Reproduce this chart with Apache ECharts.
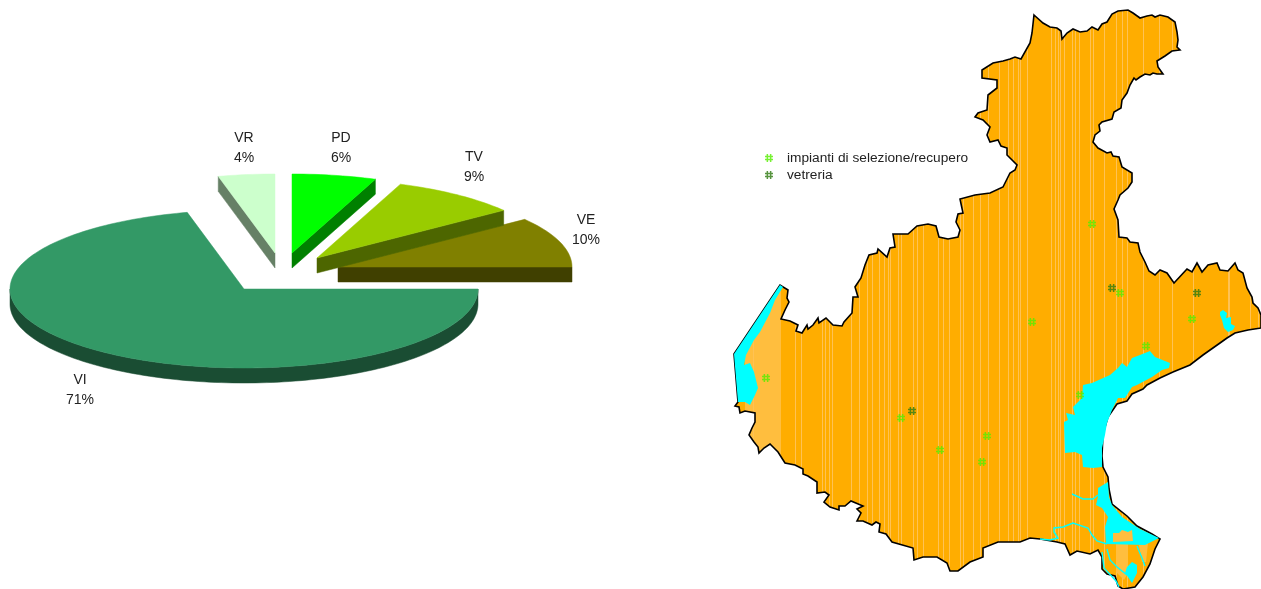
<!DOCTYPE html>
<html><head><meta charset="utf-8">
<style>html,body{margin:0;padding:0;background:#fff}#c{width:1261px;height:589px}</style>
<script src="https://cdn.jsdelivr.net/npm/echarts@6/dist/echarts.min.js"></script>
</head><body><div id="c"></div>
<script>
// ---- pie data
const provinces = ['VE','TV','PD','VR','VI'];
const shares = [10.3,8.9,5.8,3.9,71.1];
const topColors = ['#808000','#99CC00','#00FF00','#CCFFCC','#339966'];
const wallColors = ['#404000','#4D6600','#008000','#668066','#1A4D33'];
// ---- point data (map coordinates)
const selectionPlants = [[1092,224],[1120,293],[1032,322],[1192,319],[1146,346],[1080,395],[766,378],[901,418],[940,450],[987,436],[982,462]];
const glassWorks = [[1112,288],[1197,293],[912,411]];
const legendNames = ['impianti di selezione/recupero','vetreria'];
// ---- map geography, traced (x, y)
const venetoOutline = [[1034,15],[1043,23],[1050,27],[1057,28],[1061,31],[1062,39],[1067,33],[1073,29],[1080,32],[1087,31],[1092,27],[1098,30],[1102,24],[1107,22],[1112,14],[1118,11],[1128,10],[1133,13],[1140,18],[1147,16],[1152,15],[1155,17],[1160,15],[1168,17],[1175,22],[1177,32],[1178,40],[1177,47],[1180,50],[1172,51],[1165,56],[1157,61],[1158,67],[1163,74],[1157,74],[1153,73],[1150,75],[1145,74],[1140,77],[1136,80],[1134,78],[1130,85],[1127,93],[1122,100],[1121,108],[1114,112],[1112,119],[1102,122],[1099,125],[1100,131],[1095,135],[1093,142],[1098,148],[1107,153],[1111,152],[1113,156],[1119,157],[1122,167],[1132,173],[1132,182],[1128,188],[1120,195],[1118,200],[1114,209],[1118,220],[1119,237],[1127,238],[1130,242],[1138,243],[1140,252],[1145,262],[1149,271],[1155,275],[1160,270],[1167,273],[1174,283],[1187,269],[1192,272],[1197,263],[1202,272],[1208,265],[1217,263],[1220,270],[1228,271],[1235,263],[1238,270],[1243,273],[1247,288],[1252,297],[1253,303],[1258,308],[1261,315],[1261,328],[1248,330],[1235,333],[1227,338],[1220,343],[1203,355],[1190,365],[1173,372],[1160,378],[1147,385],[1143,389],[1132,394],[1127,401],[1117,404],[1108,417],[1103,434],[1102,456],[1103,467],[1108,477],[1109,489],[1112,504],[1127,516],[1137,526],[1152,534],[1160,539],[1155,549],[1150,564],[1143,577],[1135,587],[1123,589],[1118,586],[1115,576],[1107,574],[1102,569],[1102,557],[1098,550],[1090,554],[1077,551],[1070,555],[1065,544],[1057,542],[1040,539],[1030,538],[1020,542],[1008,542],[998,542],[983,548],[983,557],[970,562],[958,571],[950,571],[947,563],[937,557],[923,557],[914,560],[913,548],[892,542],[886,534],[879,532],[880,524],[876,522],[872,525],[863,521],[857,521],[861,513],[857,509],[863,506],[851,501],[845,506],[839,506],[839,510],[830,507],[824,502],[829,495],[825,492],[817,493],[817,482],[808,476],[803,474],[803,469],[795,465],[785,463],[778,452],[770,444],[764,448],[759,453],[758,447],[754,442],[749,435],[752,428],[755,422],[755,413],[745,411],[740,413],[739,407],[735,406],[738,402],[734,354],[780,285],[788,290],[787,298],[789,302],[785,310],[781,319],[790,321],[798,325],[796,331],[802,333],[807,325],[808,329],[813,325],[818,318],[819,323],[826,318],[833,325],[842,326],[844,322],[852,313],[853,297],[858,297],[855,287],[861,278],[865,265],[869,255],[877,253],[878,249],[887,257],[890,248],[895,247],[893,234],[908,234],[917,226],[928,224],[936,226],[939,237],[948,239],[958,237],[960,230],[956,222],[958,214],[963,213],[960,199],[975,195],[990,193],[1003,187],[1010,173],[1015,170],[1017,165],[1007,155],[1007,148],[1001,146],[998,140],[990,142],[987,135],[990,127],[983,120],[975,117],[978,113],[987,110],[988,95],[997,88],[997,80],[982,78],[982,70],[993,63],[1003,61],[1010,59],[1015,57],[1021,59],[1030,43],[1032,33],[1034,15]];
const gardaLake = [[780,285],[783,287],[775,300],[770,313],[760,332],[754,340],[746,355],[744,365],[750,363],[754,372],[758,388],[755,395],[750,405],[745,402],[738,402],[734,354]];
const veniceLagoon = [[1150,351],[1155,357],[1170,363],[1169,368],[1162,370],[1152,377],[1137,385],[1132,387],[1125,398],[1118,398],[1112,410],[1107,423],[1105,435],[1102,448],[1102,467],[1093,468],[1083,467],[1082,455],[1075,452],[1065,453],[1064,422],[1068,420],[1066,413],[1075,415],[1073,407],[1082,398],[1083,385],[1092,383],[1110,375],[1118,368],[1122,363],[1127,367],[1132,358],[1140,355]];
const caorleLagoon = [[1220,312],[1223,310],[1227,313],[1226,318],[1231,317],[1231,324],[1235,326],[1233,330],[1228,332],[1224,328],[1222,320],[1220,315]];
const poDelta = [[1098,488],[1108,482],[1109,497],[1112,505],[1122,517],[1140,529],[1159,538],[1145,545],[1106,544],[1105,527],[1108,517],[1102,508],[1096,505],[1098,497]];
const deltaIsland = [[1113,533],[1119,533],[1122,530],[1128,532],[1132,530],[1133,541],[1113,542]];
const deltaPond = [[1127,567],[1132,562],[1137,565],[1137,573],[1132,583],[1128,577],[1125,573]];
const deltaPaleWest = [[1116,544],[1128,544],[1128,573],[1124,580],[1116,572]];
const deltaPaleEast = [[1139,545],[1148,543],[1146,562],[1142,562]];
const riverPaths = [
  [[1072,494],[1083,499],[1093,499],[1098,495]],
  [[1107,544],[1097,541],[1092,535],[1088,528],[1073,523],[1063,527],[1054,528],[1054,532],[1058,538],[1050,540],[1040,539]],
  [[1102,552],[1104,568],[1116,581],[1119,587]],
  [[1107,549],[1110,560],[1117,567],[1127,575]],
  [[1137,546],[1142,558],[1145,566]]
];
const stripeColumns = [753,795,801,822,825,829,832,851,859,867,872,879,884,888,890,898,901,913,917,923,938,943,949,960,963,973,980,988,999,1008,1013,1018,1020,1027,1051,1055,1058,1060,1064,1072,1075,1079,1090,1093,1104,1116,1122,1127,1143,1159,1172,1193,1228,1229,1250,1258];
const paleBands = [[745,781]];

// ---- layout
const pieLayout = {rx:234, ry:79, depth:15, steps:64,
  apex:{VE:[338,267],TV:[317,258],PD:[292,253],VR:[275,253],VI:[244,289]},
  label:{VE:[586,230],TV:[474,167],PD:[341,148],VR:[244,148],VI:[80,390]}};

function stripeCanvas(){
  const c=document.createElement('canvas');c.width=1261;c.height=2;
  const g=c.getContext('2d');
  g.fillStyle='#FFAD00';g.fillRect(0,0,1261,2);
  g.fillStyle='#FFBE3E';paleBands.forEach(b=>g.fillRect(b[0],0,b[1]-b[0],2));
  g.fillStyle='#FFC254';stripeColumns.forEach(x=>g.fillRect(x,0,1,2));
  return c;
}
const toGeo = ring => ring.map(p=>[p[0],-p[1]]);
const feature=(name,ring)=>({type:'Feature',properties:{name},geometry:{type:'Polygon',coordinates:[toGeo(ring)]}});
const geoJson={type:'FeatureCollection',features:[
  feature('Veneto',venetoOutline),feature('PaleW',deltaPaleWest),feature('PaleE',deltaPaleEast),feature('Garda',gardaLake),feature('Venezia',veniceLagoon),
  feature('Caorle',caorleLagoon),feature('Delta',poDelta),feature('Isola',deltaIsland),feature('Stagno',deltaPond)]};
echarts.registerMap('veneto',geoJson);

const hash='path://M1.6,0h1.5v8h-1.5z M4.9,0h1.5v8h-1.5z M0,1.8h8v1.5h-8z M0,4.8h8v1.5h-8z';
const land={color:{image:stripeCanvas(),repeat:'repeat'},borderColor:'#000',borderWidth:1.6};
const water={color:'#00FFFF',borderWidth:0,borderColor:'#00FFFF'};
const pale={color:'#FFBE3E',borderWidth:0};
const st=i=>({itemStyle:i,emphasis:{disabled:true},select:{disabled:true}});

let cum=0;
const sliceAngles=shares.map(v=>{const a=cum;cum+=v;return [a*3.6,cum*3.6];});

function renderSlice(params,api){
  const i=params.dataIndex, name=provinces[i], L=pieLayout, [cx,cy]=L.apex[name];
  const [a0,a1]=sliceAngles[i];
  const pt=(d,z)=>{const r=d*Math.PI/180;return [cx+L.rx*Math.cos(r),cy-L.ry*Math.sin(r)+(z||0)];};
  const arc=(from,to,z)=>{const n=Math.max(2,Math.ceil((to-from)/360*L.steps*4));const o=[];for(let k=0;k<=n;k++)o.push(pt(from+(to-from)*k/n,z));return o;};
  const ch=[];
  const wall=(pts)=>ch.push({type:'polygon',shape:{points:pts},style:{fill:wallColors[i],stroke:wallColors[i],lineWidth:.5}});
  const edge=a=>[[cx,cy],pt(a),pt(a,L.depth),[cx,cy+L.depth]];
  if(Math.cos(a0*Math.PI/180)>1e-3) wall(edge(a0));
  if(Math.cos(a1*Math.PI/180)<-1e-3) wall(edge(a1));
  const lo=Math.max(a0,180),hi=Math.min(a1,360);
  if(hi>lo) wall(arc(lo,hi,0).concat(arc(lo,hi,L.depth).reverse()));
  ch.push({type:'polygon',shape:{points:[[cx,cy]].concat(arc(a0,a1,0))},style:{fill:topColors[i],stroke:topColors[i],lineWidth:.5}});
  const lp=L.label[name];
  ch.push({type:'text',z2:50,style:{x:lp[0],y:lp[1],text:name+'\n'+Math.round(api.value(0))+'%',fill:'#222',font:'14px "Liberation Sans"',align:'center',verticalAlign:'middle',lineHeight:20}});
  return {type:'group',children:ch};
}

const chart=echarts.init(document.getElementById('c'),null,{renderer:'canvas'});
chart.setOption({
  animation:false,backgroundColor:'#fff',tooltip:{show:false},
  legend:{show:true,orient:'vertical',left:760,top:146,itemWidth:8,itemHeight:8,itemGap:3,selectedMode:false,
    data:[{name:legendNames[0],icon:hash},{name:legendNames[1],icon:hash}],
    textStyle:{fontFamily:'Liberation Sans',fontSize:13.7,color:'#222',padding:[0,0,0,9],lineHeight:12}},
  geo:{map:'veneto',roam:false,silent:true,aspectScale:1,layoutCenter:[630.5,294.5],layoutSize:1261,
    boundingCoords:[[0,0],[1261,-589]],label:{show:false},itemStyle:land,
    regions:[{name:'Veneto',...st(land)},{name:'PaleW',...st(pale)},{name:'PaleE',...st(pale)},{name:'Garda',...st(water)},{name:'Venezia',...st(water)},
      {name:'Caorle',...st(water)},{name:'Delta',...st(water)},{name:'Isola',...st(pale)},{name:'Stagno',...st(water)}]},
  series:[
    {type:'custom',coordinateSystem:'none',renderItem:renderSlice,silent:true,data:shares.map(v=>[v])},
    {type:'lines',coordinateSystem:'geo',polyline:true,silent:true,lineStyle:{color:'#00FFFF',width:1.4,opacity:1},
      data:riverPaths.map(r=>({coords:toGeo(r)}))},
    {type:'scatter',name:legendNames[0],coordinateSystem:'geo',symbol:hash,symbolSize:8,silent:true,z:5,
      itemStyle:{color:'#55EE00'},data:toGeo(selectionPlants)},
    {type:'scatter',name:legendNames[1],coordinateSystem:'geo',symbol:hash,symbolSize:8,silent:true,z:6,
      itemStyle:{color:'#2E7A10'},data:toGeo(glassWorks)}
  ]
});
</script></body></html>
